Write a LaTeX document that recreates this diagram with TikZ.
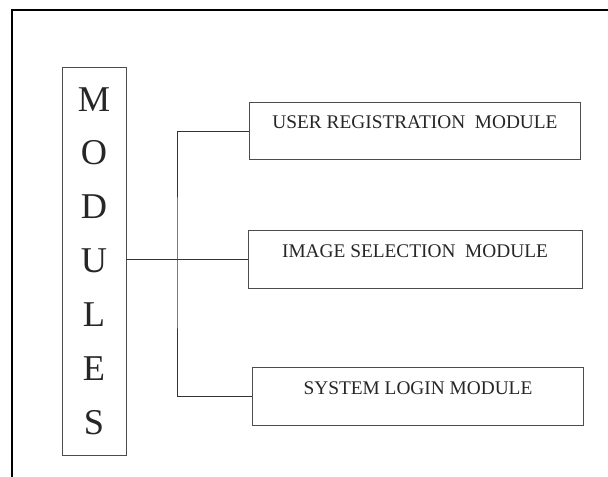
\documentclass[tikz,border=0pt]{standalone}
\usepackage{fontspec}
\setmainfont{Liberation Serif}
\begin{document}
\begin{tikzpicture}[x=0.03cm, y=0.03cm]
\tikzstyle{every node}+=[inner sep=0pt, text=black!85]
\tikzstyle{modbox}=[draw=black!70, line width=0.8pt, minimum width=9.95cm, text height=0.8cm, text depth=0.93cm, font=\fontsize{16.5}{18}\selectfont]
\useasboundingbox (0,0) rectangle (608,-477);
\draw [black, line width=1.8pt] (12,-477) -- (12,-10) -- (608,-10);
\node [draw=black!70, line width=0.8pt, minimum width=1.92cm, minimum height=11.64cm, align=center, font=\fontsize{31}{46}\selectfont] (modules) at (94,-261) {M\\O\\D\\U\\L\\E\\S};
\node [modbox] (userreg) at (415,-131) {USER REGISTRATION\ \ MODULE};
\node [modbox, minimum width=10.02cm] (imgsel) at (415,-259.5) {IMAGE SELECTION\ \ MODULE};
\node [modbox] (syslogin) at (418,-396.5) {SYSTEM LOGIN MODULE};
\coordinate (split) at (177,-262);
\draw [black!80, line width=0.6pt] (modules.east |- imgsel.west) -- (imgsel.west);
\draw [black!80, line width=0.6pt] (userreg.west) -| (split) |- (syslogin.west);
\end{tikzpicture}
\end{document}
